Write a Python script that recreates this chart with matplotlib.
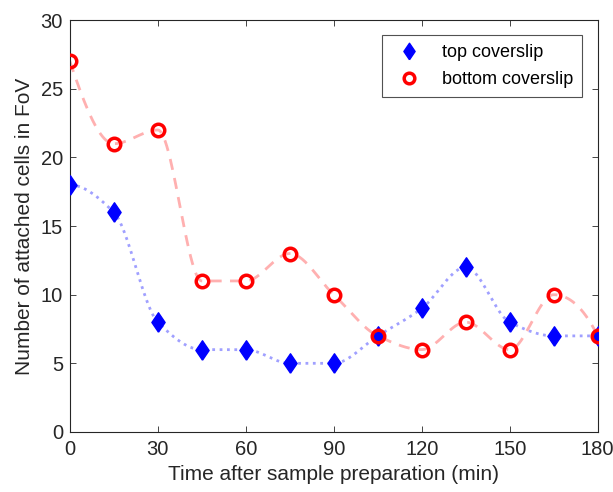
import numpy as np
import matplotlib
matplotlib.use("Agg")
import matplotlib.pyplot as plt

time_min = [0, 15, 30, 45, 60, 75, 90, 105, 120, 135, 150, 165, 180]
top_cells = [18, 16, 8, 6, 6, 5, 5, 7, 9, 12, 8, 7, 7]
bottom_cells = [27, 21, 22, 11, 11, 13, 10, 7, 6, 8, 6, 10, 7]


def pchip(x, y, xs):
    # shape-preserving cubic, like MATLAB's pchip
    x = np.asarray(x, float)
    y = np.asarray(y, float)
    h = np.diff(x)
    d = np.diff(y) / h
    n = len(x)
    m = np.zeros(n)
    for k in range(1, n - 1):
        if d[k - 1] * d[k] > 0:
            w1 = 2 * h[k] + h[k - 1]
            w2 = h[k] + 2 * h[k - 1]
            m[k] = (w1 + w2) / (w1 / d[k - 1] + w2 / d[k])
    m[0] = ((2 * h[0] + h[1]) * d[0] - h[0] * d[1]) / (h[0] + h[1])
    if np.sign(m[0]) != np.sign(d[0]):
        m[0] = 0
    elif np.sign(d[0]) != np.sign(d[1]) and abs(m[0]) > abs(3 * d[0]):
        m[0] = 3 * d[0]
    m[-1] = ((2 * h[-1] + h[-2]) * d[-1] - h[-1] * d[-2]) / (h[-1] + h[-2])
    if np.sign(m[-1]) != np.sign(d[-1]):
        m[-1] = 0
    elif np.sign(d[-1]) != np.sign(d[-2]) and abs(m[-1]) > abs(3 * d[-1]):
        m[-1] = 3 * d[-1]
    idx = np.clip(np.searchsorted(x, xs) - 1, 0, n - 2)
    t = (xs - x[idx]) / h[idx]
    h00 = 2 * t**3 - 3 * t**2 + 1
    h10 = t**3 - 2 * t**2 + t
    h01 = -2 * t**3 + 3 * t**2
    h11 = t**3 - t**2
    return h00 * y[idx] + h10 * h[idx] * m[idx] + h01 * y[idx + 1] + h11 * h[idx] * m[idx + 1]


plt.rcParams['font.family'] = ['Liberation Sans', 'DejaVu Sans']

# MATLAB-style diamond, a bit taller than wide
diamond = [(0, -1), (0.68, 0), (0, 1), (-0.68, 0), (0, -1)]

fig = plt.figure(figsize=(6.13, 4.92), dpi=100)
ax = fig.add_axes([0.114, 0.122, 0.861, 0.837])

xs = np.linspace(0, 180, 600)
ax.plot(xs, pchip(time_min, top_cells, xs), ':', color='#a0a0ff', lw=2, zorder=2)
ax.plot(xs, pchip(time_min, bottom_cells, xs), '--', color='#ffb0b0', lw=2, dashes=(4, 3), zorder=2)
ax.plot(time_min, top_cells, marker=diamond, ls='none', ms=14, color='blue', zorder=3,
        label='top coverslip')
ax.plot(time_min, bottom_cells, 'o', ms=9, mfc='none', mec='red', mew=2.5, zorder=4,
        label='bottom coverslip')

ax.set_xlim(0, 180)
ax.set_ylim(0, 30)
ax.set_xticks(range(0, 181, 30))
ax.set_yticks(range(0, 31, 5))
ax.tick_params(direction='in', labelsize=14.5, right=True, top=True, length=4, width=0.6,
               colors='#262626')
ax.tick_params(axis='y', pad=5)
ax.tick_params(axis='x', pad=6)
for s in ax.spines.values():
    s.set_linewidth(0.8)
    s.set_color('#262626')
ax.set_xlabel('Time after sample preparation (min)', fontsize=15, color='#262626', labelpad=4)
ax.set_ylabel('Number of attached cells in FoV', fontsize=15, color='#262626', labelpad=5)

leg = ax.legend(loc='upper right', bbox_to_anchor=(0.97, 0.964), borderaxespad=0, fontsize=13,
                frameon=True, fancybox=False, edgecolor='#262626', handletextpad=0.8,
                borderpad=0.5, labelspacing=0.55, markerscale=0.85)
leg.get_frame().set_linewidth(0.8)

fig.savefig('out.png', dpi=100)
